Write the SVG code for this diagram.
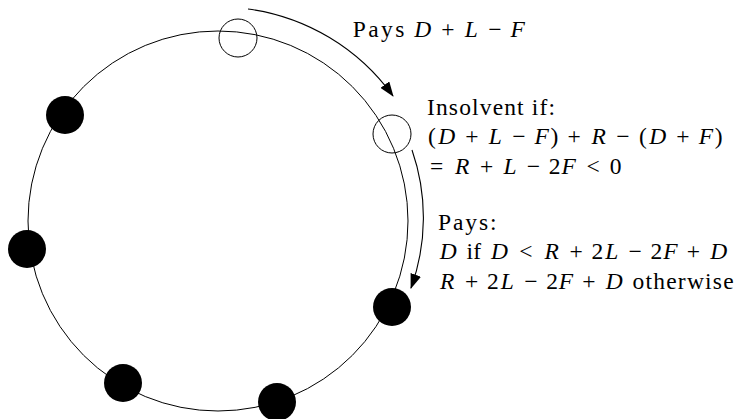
<svg xmlns="http://www.w3.org/2000/svg" width="735" height="419" viewBox="0 0 735 419">
<style>
.ring{fill:none;stroke:#000;stroke-width:1}
.hollow{fill:none;stroke:#000;stroke-width:1}
.solid{fill:#000;stroke:none}
.arc{fill:none;stroke:#000;stroke-width:1.1;marker-end:url(#ah)}
text{font-family:"Liberation Serif","DejaVu Serif",serif;font-size:23.5px;fill:#000}
.m{font-style:italic}
.c{text-anchor:middle}
</style>
<defs>
<marker id="ah" viewBox="0 0 15 11" refX="14" refY="5.5" markerWidth="15" markerHeight="11" markerUnits="userSpaceOnUse" orient="auto">
<path d="M0,0 L15,5.5 L0,11 z" fill="#000"/>
</marker>
</defs>
<circle class="ring" cx="218" cy="221" r="190"/>
<g id="connectors">
<path class="arc" d="M 248 9 A 214 214 0 0 1 393 96"/>
<path class="arc" d="M 412 150 A 206 206 0 0 1 411 288"/>
</g>
<g id="n-top"><circle class="hollow" cx="238" cy="38" r="19"/></g>
<g id="n-right"><circle class="hollow" cx="392" cy="134" r="19"/></g>
<g id="n-b1"><circle class="solid" cx="65" cy="115" r="19"/></g>
<g id="n-b2"><circle class="solid" cx="27" cy="249" r="19"/></g>
<g id="n-b3"><circle class="solid" cx="123" cy="383" r="19"/></g>
<g id="n-b4"><circle class="solid" cx="277" cy="402" r="19"/></g>
<g id="n-b5"><circle class="solid" cx="392" cy="307" r="19"/></g>
<g id="labels">
<text x="352.7" y="37.3" textLength="51.7" lengthAdjust="spacing">Pays</text>
<text y="37.3" class="c"><tspan class="m" x="422.8">D</tspan><tspan x="448">+</tspan><tspan class="m" x="471.4">L</tspan><tspan x="494.8">−</tspan><tspan class="m" x="517.7">F</tspan></text>

<text x="427" y="114.5" textLength="128" lengthAdjust="spacing">Insolvent if:</text>
<text y="144" class="c"><tspan x="431.8">(</tspan><tspan class="m" x="446.8">D</tspan><tspan x="472">+</tspan><tspan class="m" x="495.4">L</tspan><tspan x="518.8">−</tspan><tspan class="m" x="541.7">F</tspan><tspan x="554.4">)</tspan><tspan x="574.2">+</tspan><tspan class="m" x="598.6">R</tspan><tspan x="623">−</tspan><tspan x="642.8">(</tspan><tspan class="m" x="657.7">D</tspan><tspan x="682.9">+</tspan><tspan class="m" x="705.9">F</tspan><tspan x="718.6">)</tspan></text>
<text y="173.7" class="c"><tspan x="436.6">=</tspan><tspan class="m" x="462.3">R</tspan><tspan x="486.7">+</tspan><tspan class="m" x="510.1">L</tspan><tspan x="533.5">−</tspan><tspan x="554.7">2</tspan><tspan class="m" x="568.7">F</tspan><tspan x="593.1">&lt;</tspan><tspan x="615.7">0</tspan></text>

<text x="438" y="229.8" textLength="58.6" lengthAdjust="spacing">Pays:</text>
<text y="259.3" class="c"><tspan class="m" x="448.2">D</tspan><tspan x="473.8">if</tspan><tspan class="m" x="499.4">D</tspan><tspan x="526">&lt;</tspan><tspan class="m" x="551.8">R</tspan><tspan x="576.1">+</tspan><tspan x="597.3">2</tspan><tspan class="m" x="611.9">L</tspan><tspan x="635.2">−</tspan><tspan x="656.4">2</tspan><tspan class="m" x="670.5">F</tspan><tspan x="693.5">+</tspan><tspan class="m" x="718.7">D</tspan></text>
<text y="288.8" class="c"><tspan class="m" x="447.3">R</tspan><tspan x="471.7">+</tspan><tspan x="492.9">2</tspan><tspan class="m" x="507.4">L</tspan><tspan x="530.8">−</tspan><tspan x="552">2</tspan><tspan class="m" x="566">F</tspan><tspan x="589">+</tspan><tspan class="m" x="614.2">D</tspan></text>
<text x="632.6" y="288.8" textLength="101" lengthAdjust="spacing">otherwise</text>
</g>
</svg>
